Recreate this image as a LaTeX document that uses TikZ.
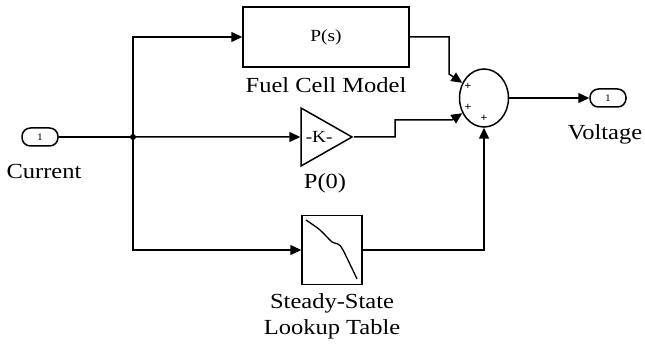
\documentclass[tikz,border=0pt]{standalone}
\usepackage{fontspec}
\setmainfont{Liberation Serif}[FakeStretch=1.14]
\usetikzlibrary{shapes.geometric, arrows.meta, positioning}

\begin{document}
\begin{tikzpicture}[x=1pt, y=-1pt,
    wire/.style = {draw=black, line width=1.5pt},
    sig/.style = {draw=black, line width=1.5pt, -{Triangle[length=11pt, width=10pt]}},
    block/.style = {rectangle, draw=black, line width=1.5pt, inner sep=0pt, font=\fontsize{17}{20}\selectfont},
    port/.style = {rectangle, rounded corners=8.5pt, draw=black, line width=1.5pt, minimum width=36pt, minimum height=18pt, inner sep=0pt, font=\fontsize{10}{11}\selectfont},
    lbl/.style = {align=center, inner sep=0pt, font=\fontsize{21.5}{26}\selectfont},
    sign/.style = {inner sep=0pt, font=\fontsize{11}{11}\selectfont\bfseries}
]
\useasboundingbox (0,0) rectangle (645,347);

% Blocks
\node (in) [port] at (40,137) {1};
\node (fc) [block, minimum width=166pt, minimum height=60pt] at (326,37) {P(s)};
\node (gain) [isosceles triangle, isosceles triangle stretches, draw=black, line width=1.5pt, minimum width=58pt, minimum height=51pt, inner sep=0pt, anchor=apex, font=\fontsize{17}{20}\selectfont] at (354,137) {-K-};
\node (lut) [block, minimum width=60pt, minimum height=69pt] at (332,250) {};
\node (sum) [ellipse, draw=black, line width=1.5pt, minimum width=49pt, minimum height=58pt, inner sep=0pt] at (484,98) {};
\node (out) [port] at (608,98) {1};
\coordinate (jn) at (133,137);
\fill (jn) circle (3pt);

% Lookup curve
\draw [line width=1.3pt] plot[smooth] coordinates {(306,220) (320,230) (332,242) (338,244) (343,250) (357,279)};

% Signs
\node (s1) [sign] at (468,86) {+};
\node (s2) [sign] at (468,107) {+};
\node (s3) [sign] at (484,118) {+};

% Labels
\node (curlbl) [lbl] at (44,171) {Current};
\node (fclbl) [lbl] at (326,85) {Fuel Cell Model};
\node (gainlbl) [lbl] at (325,183) {P(0)};
\node (lutlbl) [lbl] at (332,316) {Steady-State\\Lookup Table};
\node (outlbl) [lbl] at (605,134) {Voltage};

% Bends
\coordinate (b1) at (449,74);
\coordinate (b2) at (395,120);
\coordinate (b3) at (452,120);

% Signals
\draw [wire] (in.east) -- (jn);
\draw [sig] (jn) |- (fc.west);
\draw [sig] (jn) -- (gain.west);
\draw [sig] (jn) |- (lut.west);
\draw [sig] (fc.east) -| (b1) -- (sum.145);
\draw [sig] (gain.apex) -| (b2) -- (b3) -- (sum.215);
\draw [sig] (lut.east) -| (sum.south);
\draw [sig] (sum.east) -- (out.west);

\end{tikzpicture}
\end{document}
